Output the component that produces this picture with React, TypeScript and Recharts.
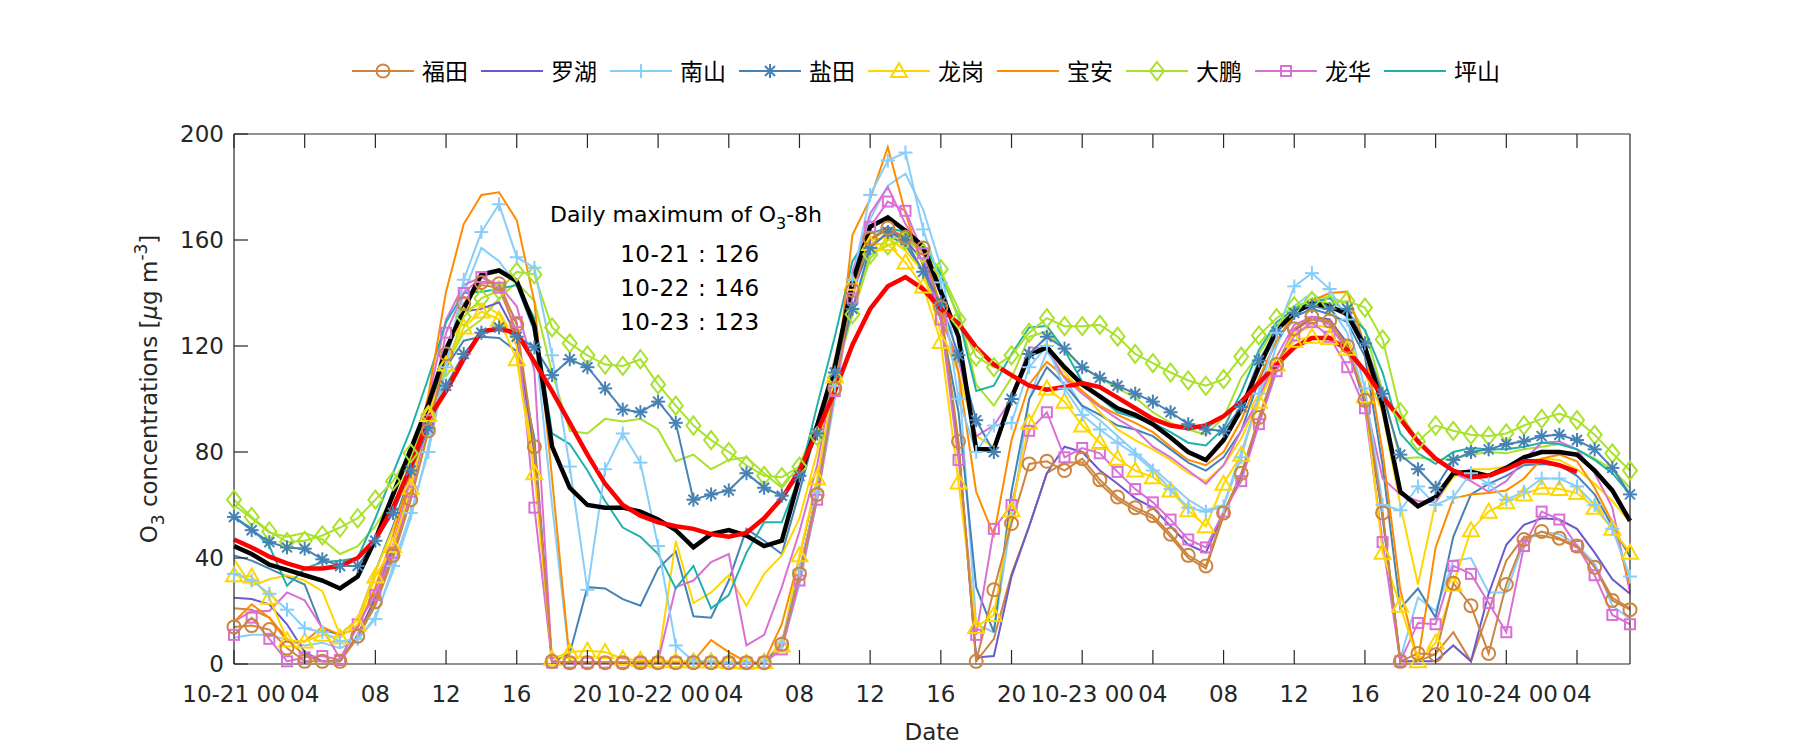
import React from 'react';
import { LineChart, Line, XAxis, YAxis } from 'recharts';

// ---------- data (hourly, 10-21 00 .. 10-24 07) ----------
const HOURS = [
  0,1,2,3,4,5,6,7,8,9,10,11,12,13,14,15,16,17,18,19,
  20,21,22,23,24,25,26,27,28,29,30,31,32,33,34,35,36,37,38,39,
  40,41,42,43,44,45,46,47,48,49,50,51,52,53,54,55,56,57,58,59,
  60,61,62,63,64,65,66,67,68,69,70,71,72,73,74,75,76,77,78,79,
];
const X_TICKS = [0,4,8,12,16,20,24,28,32,36,40,44,48,52,56,60,64,68,72,76];
const X_TICK_LABELS = ['10-21 00','04','08','12','16','20','10-22 00','04','08','12','16','20','10-23 00','04','08','12','16','20','10-24 00','04'];
const Y_TICKS = [0,40,80,120,160,200];
const ANNOT_LINES = ['10-21 : 126','10-22 : 146','10-23 : 123'];

const FT = [14,14.5,13,6,1,1,1,10.5,23.5,41, 62,88,117,136,144,143.5,128,82,1,0.5, 0.5,0.5,0.5,0.5,0.5,0.5,0.5,0.5,0.5,0.5, 0.5,7.5,34,64,104,141,160.5,164.5,161,157, 134.5,84,1,28,53,75.5,76.5,73,77.5,69.5, 63,59,56,49,41,37,57,72,93,113, 126.5,131,129.5,120,99.5,57,1,4,3.5,30.5, 22,4,30,47,50,47.5,44.5,36.5,24,20.5];
const FT2 = [21,20.5,17.5,9.5,3,1,1,10,22,40, 62,88,118,136,143,142,125,80,0.5,0.5, 0.5,0.5,0.5,0.5,0.5,0.5,0.5,0.5,0.5,0.5, 0.5,7,33,63,103,141,160,164,160,156, 133,82,1,9.5,34,52,72,76,76,68, 62,58,55,48,40,36,56,71,92,112, 126,130,129,119,99,56,1,1,3.8,12, 1,20,39,48,48.5,47,44,37,25,21];
const LH = [25,24.5,22.5,15,4.5,1,1,11,25,44, 66,92,120,133,134,136.5,124,80,0.5,0.5, 0.5,0.5,0.5,0.5,0.5,0.5,0.5,0.5,0.5,0.5, 0.5,8,35,65,104,140,160,165,160,152, 130,82,2.5,3,33,52,72,82,80,73, 68,62.5,59,52,45,42,57,71,91,111, 126,131,130,121,98,56,1,1,1,7, 1,26.5,45,52.5,55,54.5,51,42,32,26.5];
const NS = [34,31.5,26.5,20.5,13.5,12,8.5,9.5,17,37, 57,80,112,145,163,173.5,153.5,149.5,116.5,74.5, 28,73.5,87,76,44.5,7,1,1,0.5,0.5, 1,8,35.5,65,105,145,177,190,193,164, 144,100,80,90,91,112,120,104,94,88.5, 83.5,79,73,66,59,57.5,59.5,78,102,125, 142.5,147.5,141.5,130,104,60,58,67,60,63, 72,68,62,65,70,70,67,60,51,33];
const NS2 = [10,11,11,9,7,8,6,9,18,35, 55,82,115,140,157,152,143,125,60,1, 0.5,0.5,0.5,0.5,0.5,0.5,0.5,0.5,0.5,0.5, 0.5,6,30,62,100,140,168,180.5,185,171.5, 150,110,15,12,55,100,118,108,97,92, 86,80,74,68,62,58,60,80,100,120, 135,140,135,125,100,55,2,25,20,39, 40,27,27,46,50,49,45,38,22,17];
const YT = [55.5,50.5,46,44,43.5,39.5,37,37,46.5,57, 73,89,105,117,125,127,123.5,119.5,109,115, 112,104,96,95,99,91,62,64,65.5,72, 66.5,63.5,71,87,110,134,157,163,160,148, 136.5,116.5,92,80,100,117,123.5,119,112,108, 105,102,99,95,90.5,88.5,88,97,114.5,125.5, 132.5,135,134,134,121,102,79,73.5,66.5,77, 80,81,83,84,86,86.5,84.5,81,74,64];
const YT2 = [41,39,36,33,30,13,11,17,35,52, 72,92,112,122,123.5,123,118,85,0.5,4, 29,28.5,24.5,22,36,42.5,18,17.5,31.5,51, 46.5,41.5,65,90,115,140,158,162,158,148, 130,95,29,12,65,100,112,105.5,97.5,94, 90,88.5,86,81,76,73,78,88,107,122, 131,134,132,129,116,75,21,28.5,17.5,48, 64,68,71,75,75.5,75,71,64,52,40.5];
const LG = [33.5,33,25,9,8.5,11,10,15,33,44.5, 66.5,94,113,127,133,130,115,72,2,4.5, 5,4.5,2,1.5,1,1,1,1,0.8,0.5, 0.8,7,41,70,108.5,143.5,158.5,158.5,151.5,142.5, 121.5,68.5,14,18.5,58,91,104,99,90,83.5, 77.5,73,70.5,65.5,58,52,68,79,99,113, 122,123.5,123,119,101,42,22,1,8,30, 50.5,57.5,61,64,66.5,66,64.5,59,51,42];
const LG2 = [39.5,29.5,32,33.5,31.5,27.5,11,17,35,51, 70,95,120,133,136,132,120,75,0.5,0.5, 0.5,0.5,0.5,0.5,1,46.5,23,27,33.5,22, 34,41,55,80,115,145,160,161,156,148, 125,110,86,82,100,116,121,110,103,95, 88.5,84.5,81,77,72,69,75,85,100,113, 124,128,127,122,110,95,60,30,61,70.5, 73.5,73.5,74.5,76,77.5,77,73.5,68,61.5,53.5];
const BA = [16,22.5,17.5,8.5,8.5,14,11,13.5,29,48.5, 72,101.5,140.5,166,177,178,167.5,136.5,70,1, 0.5,0.5,0.5,0.5,0.5,0.5,1,9,4.5,0.8, 0.8,15,40.5,69,103,162,175.5,195,170,150, 135,110,65,48.5,84.5,105.5,114,108.5,103,97.5, 94,91,87.5,82,77,75,80,92,108,122, 132,137,140,140.5,120,80,28,1,44,62.5, 64,64.5,65.5,70,77.5,79,76.5,66.5,53.5,30];
const DP = [62,55.5,50,46,46.5,48.5,51.5,55,62,69, 79.5,94,112,131,138,141,148,147,127,121, 116.5,113,112.5,115,105.5,97.5,90,84.5,80,75, 71,70.5,74.5,86,108,132,154.5,158,160,155, 149,130,116,112,116.5,125,130.5,127.5,127.5,128, 123.5,117,113.5,110,107,105,107.5,116,124,130.5, 135,137,136,137,134.5,122.5,95,84,90,88, 86.5,86,87,90,92.5,94.5,92,86.5,79.5,73];
const DP2 = [60,55,49.5,48,49.5,47,41.5,44.5,52,63, 78,95,113,125,130,138,144,137,110,88, 87,92.5,91.5,92.5,88.5,76.5,79,73.5,77,78, 72,66.5,75,91,110,132,153,160,162,156, 148,134,105.5,97.5,108,123.5,125.5,118.5,112,108, 104,100.5,95,91,88.5,86.5,93,108,117,127.5, 134,138,138.5,136,126,103,77.5,78,77,77.5, 79,80,79.5,81,82,83,81,77.5,73.5,66.5];
const LHUA = [11,17.5,9.5,1,2.5,3,1.5,15,26,42, 65,92,125,140,146,142,129,59,0.5,0.5, 0.5,0.5,0.5,0.5,0.5,0.5,0.5,0.5,0.5,0.5, 0.5,5.5,31.5,62,103,138,165,174.5,171,155, 130,77,11,51,60,88,95,78,81.5,79.5, 72.5,66,61,54.5,47,44,57.5,69,90.5,110.5, 124,129,123.5,112,96.5,46,1,15.5,15,37, 34,23,12,44.5,57.5,54.5,44.5,33.5,18.5,15];
const LHUA2 = [16,20,20,27,24,13.5,2,14,28,45, 70,100,130,143,146,143,135,110.5,0.5,0.5, 0.5,0.5,0.5,0.5,1,29,31.5,38.5,41.5,7, 11,29,50,75,112,148,170,180,166,155, 130,115,86,90,100,119.5,119,108,102,97, 92.5,88.5,82,78,73,68,75,88,100,116, 128,131,128,118,100,70,64,61.5,61,72, 69,65,69,77,83.5,84,81,72,59,27];
const PS = [55.5,51,44.5,29.5,36,38.5,39,40,55,72, 88.5,108,129,140,140.5,141.5,143,130.5,87,83, 73,61.5,51.5,48,41.5,28.5,37,21,26,42, 53.5,53.5,70.5,97.5,123.5,152,162.5,164.5,163,158.5, 147,131,103,105,117,127,127.5,118.5,106.5,100.5, 95,93,91,87.5,83.5,82.5,89,102.5,118.5,129, 134,136.5,138,132.5,126,110,87,79.5,75.5,80, 81.5,81,81,82,83.5,83,81,77,72,64];
const MEAN = [44.5,41.5,37.5,35.5,33.5,31.5,28.5,33,47,64, 81,98,118.5,134,147,148.5,144.5,127.5,82,66.5, 60,59,59,57.5,54.5,50.5,44,49,50.5,48.5, 44.5,46.5,70.5,90,112,144,165,168.5,163.5,157.5, 140.5,123.5,81,81,100.5,116.5,119.5,112,105.5,101, 96.5,94,90.5,85.5,80,77,84.5,96,112,126, 132.5,136,135,132,119.5,97.5,65,59.5,63,72, 72.5,71,74,78,80,80,79,73,65.5,54];
const O3_8H = [47,44,40.5,38,36,36,37,40,47,59, 74.5,92.5,103,115,125.5,126.5,125,114,103,91, 79,68,60,56,53.5,52,51,49,48,49.5, 55,62.5,73,87.5,103,120.5,134,142.5,146,141.5, 134,128.5,119.5,113,109,105,103.5,104.5,106,104.5, 100.5,96.5,92.5,90,89,90,93.5,99,106,113, 119.5,123,123,118.5,110.5,101,92.5,84,77.5,73, 70.5,71,73.5,76.5,76.5,75,72.5,null,null,null];

const rows = HOURS.map((h, i) => ({
  h,
  ft: FT[i], ft2: FT2[i], lh: LH[i], ns: NS[i], ns2: NS2[i], yt: YT[i], yt2: YT2[i],
  lg: LG[i], lg2: LG2[i], ba: BA[i], dp: DP[i], dp2: DP2[i], lhua: LHUA[i], lhua2: LHUA2[i],
  ps: PS[i], mean: MEAN[i], o38: O3_8H[i],
}));

// ---------- styles ----------
const C = {
  ft: '#CD853F', lh: '#6A5ACD', ns: '#87CEFA', yt: '#4682B4', lg: '#FFD700',
  ba: '#FF8C00', dp: '#A8E22C', lhua: '#DA70D6', ps: '#20B2AA',
};
const FONT = 'DejaVu Sans, sans-serif';
const CJK = '"Noto Sans CJK SC", sans-serif';
const AX = '#262626';
const TICK_LEN = 14;

type Shape = 'circle' | 'plus' | 'star' | 'triangle' | 'diamond' | 'square' | 'none';

function marker(shape: Shape, x: number, y: number, color: string, key?: any) {
  const sw = 2;
  switch (shape) {
    case 'circle':
      return <circle key={key} cx={x} cy={y} r={6.5} fill="none" stroke={color} strokeWidth={sw} />;
    case 'plus':
      return (
        <g key={key} stroke={color} strokeWidth={sw}>
          <line x1={x - 7} y1={y} x2={x + 7} y2={y} />
          <line x1={x} y1={y - 7} x2={x} y2={y + 7} />
        </g>
      );
    case 'star':
      return (
        <g key={key} stroke={color} strokeWidth={sw}>
          <line x1={x - 7} y1={y} x2={x + 7} y2={y} />
          <line x1={x} y1={y - 7} x2={x} y2={y + 7} />
          <line x1={x - 5} y1={y - 5} x2={x + 5} y2={y + 5} />
          <line x1={x - 5} y1={y + 5} x2={x + 5} y2={y - 5} />
        </g>
      );
    case 'triangle':
      return <polygon key={key} points={`${x},${y - 8} ${x - 8},${y + 6} ${x + 8},${y + 6}`} fill="none" stroke={color} strokeWidth={sw} />;
    case 'diamond':
      return <polygon key={key} points={`${x},${y - 9} ${x + 7},${y} ${x},${y + 9} ${x - 7},${y}`} fill="none" stroke={color} strokeWidth={sw} />;
    case 'square':
      return <rect key={key} x={x - 5} y={y - 5} width={10} height={10} fill="none" stroke={color} strokeWidth={sw} />;
    default:
      return <g key={key} />;
  }
}

const dotFn = (shape: Shape, color: string) => (p: any) => {
  const { cx, cy, index, value } = p;
  if (cx == null || cy == null || value == null || Number.isNaN(cy)) return <g key={`d${index}`} />;
  return marker(shape, cx, cy, color, `d${index}`);
};

function BottomTick(p: any) {
  const { x, y, payload } = p;
  const i = X_TICKS.indexOf(payload.value);
  return (
    <g>
      <line x1={x} y1={y} x2={x} y2={y - TICK_LEN} stroke={AX} strokeWidth={1.2} />
      <text x={x} y={y + 38} textAnchor="middle" fontFamily={FONT} fontSize={23} fill={AX}>{X_TICK_LABELS[i] ?? ''}</text>
    </g>
  );
}
function TopTick(p: any) {
  const { x, y } = p;
  return <line x1={x} y1={y} x2={x} y2={y + TICK_LEN} stroke={AX} strokeWidth={1.2} />;
}
function LeftTick(p: any) {
  const { x, y, payload } = p;
  return (
    <g>
      <line x1={x} y1={y} x2={x + TICK_LEN} y2={y} stroke={AX} strokeWidth={1.2} />
      <text x={x - 10} y={y + 8} textAnchor="end" fontFamily={FONT} fontSize={23} fill={AX}>{payload.value}</text>
    </g>
  );
}
function RightTick(p: any) {
  const { x, y } = p;
  return <line x1={x} y1={y} x2={x - TICK_LEN} y2={y} stroke={AX} strokeWidth={1.2} />;
}

const LEGEND: { name: string; shape: Shape; color: string }[] = [
  { name: '福田', shape: 'circle', color: C.ft },
  { name: '罗湖', shape: 'none', color: C.lh },
  { name: '南山', shape: 'plus', color: C.ns },
  { name: '盐田', shape: 'star', color: C.yt },
  { name: '龙岗', shape: 'triangle', color: C.lg },
  { name: '宝安', shape: 'none', color: C.ba },
  { name: '大鹏', shape: 'diamond', color: C.dp },
  { name: '龙华', shape: 'square', color: C.lhua },
  { name: '坪山', shape: 'none', color: C.ps },
];

const line = (key: string, color: string, shape: Shape, width = 2) => (
  <Line
    key={key}
    xAxisId="b"
    yAxisId="l"
    type="linear"
    dataKey={key}
    stroke={color}
    strokeWidth={width}
    dot={shape === 'none' ? false : dotFn(shape, color)}
    activeDot={false}
    isAnimationActive={false}
    connectNulls={false}
    legendType="none"
  />
);

export default function App() {
  return (
    <div style={{ position: 'absolute', left: 0, top: 0, width: 1800, height: 750, background: '#fff' }}>
      <LineChart width={1800} height={750} data={rows} margin={{ top: 133, right: 169, bottom: 85, left: 233 }}>
        <XAxis xAxisId="b" dataKey="h" type="number" domain={[0, 79]} ticks={X_TICKS} interval={0}
          height={1} tickSize={0} tickMargin={0} tick={BottomTick} axisLine={{ stroke: AX, strokeWidth: 1.2 }} />
        <XAxis xAxisId="t" orientation="top" dataKey="h" type="number" domain={[0, 79]} ticks={X_TICKS} interval={0}
          height={1} tickSize={0} tickMargin={0} tick={TopTick} axisLine={{ stroke: AX, strokeWidth: 1.2 }} />
        <YAxis yAxisId="l" type="number" domain={[0, 200]} ticks={Y_TICKS} interval={0}
          width={1} tickSize={0} tickMargin={0} tick={LeftTick} axisLine={{ stroke: AX, strokeWidth: 1.2 }} />
        <YAxis yAxisId="r" orientation="right" type="number" domain={[0, 200]} ticks={Y_TICKS} interval={0}
          width={1} tickSize={0} tickMargin={0} tick={RightTick} axisLine={{ stroke: AX, strokeWidth: 1.2 }} />
        {line('ft2', C.ft, 'none')}
        {line('ns2', C.ns, 'none')}
        {line('yt2', C.yt, 'none')}
        {line('lg2', C.lg, 'none')}
        {line('dp2', C.dp, 'none')}
        {line('lhua2', C.lhua, 'none')}
        {line('ps', C.ps, 'none')}
        {line('ba', C.ba, 'none')}
        {line('lh', C.lh, 'none')}
        {line('dp', C.dp, 'diamond')}
        {line('lhua', C.lhua, 'square')}
        {line('lg', C.lg, 'triangle')}
        {line('yt', C.yt, 'star')}
        {line('ns', C.ns, 'plus')}
        {line('ft', C.ft, 'circle')}
        {line('mean', '#000000', 'none', 4.5)}
        {line('o38', '#FF0000', 'none', 4.5)}
      </LineChart>
      <svg width={1800} height={750} style={{ position: 'absolute', left: 0, top: 0, pointerEvents: 'none' }}>
        {/* legend */}
        {LEGEND.map((e, i) => {
          const x0 = 352 + i * 129;
          const yc = 71;
          return (
            <g key={e.name}>
              <line x1={x0} y1={yc} x2={x0 + 62} y2={yc} stroke={e.color} strokeWidth={2} />
              {marker(e.shape, x0 + 31, yc, e.color)}
              <text x={x0 + 70} y={yc + 9} fontFamily={CJK} fontSize={23} fill="#000">{e.name}</text>
            </g>
          );
        })}
        {/* annotation */}
        <text x={686} y={222} textAnchor="middle" fontFamily={FONT} fontSize={22} fill="#000">
          Daily maximum of O<tspan dy={7} fontSize={16}>3</tspan><tspan dy={-7}>-8h</tspan>
        </text>
        {ANNOT_LINES.map((t, i) => (
          <text key={t} x={690} y={262 + i * 34} textAnchor="middle" fontFamily={FONT} fontSize={23} letterSpacing={0.6} fill="#000">{t}</text>
        ))}
        {/* axis titles */}
        <text x={932} y={740} textAnchor="middle" fontFamily={FONT} fontSize={23} fill={AX}>Date</text>
        <text transform="translate(157,389) rotate(-90)" textAnchor="middle" fontFamily={FONT} fontSize={23} fill={AX}>
          O<tspan dy={7} fontSize={17}>3</tspan><tspan dy={-7}> concentrations [</tspan><tspan fontStyle="italic">μ</tspan>g m<tspan dy={-10} fontSize={17}>-3</tspan><tspan dy={10}>]</tspan>
        </text>
      </svg>
    </div>
  );
}
